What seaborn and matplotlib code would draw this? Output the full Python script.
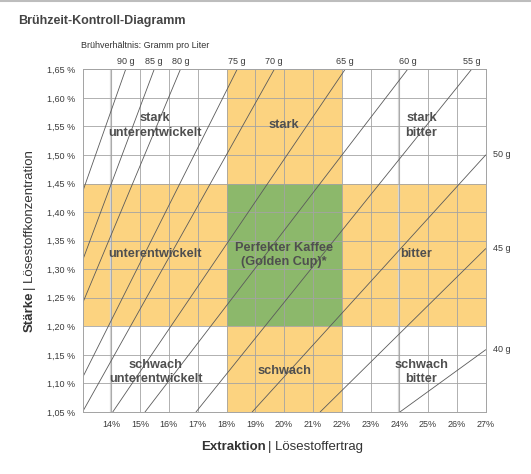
import matplotlib
matplotlib.use("Agg")
import pandas as pd
import matplotlib.pyplot as plt
from matplotlib.lines import Line2D
import seaborn as sns

# Brühverhältnis-Linien: Endpunkte (Extraktion %, Stärke %)
ratio_labels = ["90 g", "85 g", "80 g", "75 g", "70 g", "65 g", "60 g", "55 g", "50 g", "45 g", "40 g"]
start_ey = [13.0, 13.0, 13.0, 13.0, 13.0, 14.05, 15.17, 16.94, 18.89, 21.25, 24.02]
start_tds = [1.435, 1.315, 1.24, 1.11, 1.05, 1.05, 1.05, 1.05, 1.05, 1.05, 1.05]
end_ey = [14.50, 15.49, 16.40, 18.37, 19.66, 22.12, 24.29, 26.51, 27.0, 27.0, 27.0]
end_tds = [1.65, 1.65, 1.65, 1.65, 1.65, 1.65, 1.65, 1.65, 1.50, 1.336, 1.159]

x_ticks = [14, 15, 16, 17, 18, 19, 20, 21, 22, 23, 24, 25, 26, 27]
y_ticks = [1.05, 1.10, 1.15, 1.20, 1.25, 1.30, 1.35, 1.40, 1.45, 1.50, 1.55, 1.60, 1.65]

# Idealbereich
ey_range = [18, 22]
tds_range = [1.20, 1.45]

zone_labels = ["stark\nunterentwickelt", "stark", "stark\nbitter",
               "unterentwickelt", "Perfekter Kaffee\n(Golden Cup)*", "bitter",
               "schwach\nunterentwickelt", "schwach", "schwach\nbitter"]
zone_ey = [15.52, 20.0, 24.77, 15.52, 20.0, 24.6, 15.54, 20.0, 24.76]
zone_tds = [1.552, 1.552, 1.552, 1.326, 1.325, 1.326, 1.120, 1.122, 1.120]

ORANGE = "#FCD380"
GREEN = "#8CB86B"
LINE = "#5a5a5a"
GRID = "#a3a3a3"
TXT = "#4f4f4f"

sns.set_style("white")
plt.rcParams["font.family"] = ["Liberation Sans", "DejaVu Sans"]

lines_df = pd.DataFrame({
    "ratio": ratio_labels * 2,
    "ey": start_ey + end_ey,
    "tds": start_tds + end_tds,
})

fig = plt.figure(figsize=(5.31, 4.74), dpi=100)
ax = fig.add_axes([82.5 / 531, 1 - 412 / 474, (485.7 - 82.5) / 531, (412 - 69.3) / 474])

# Zonen
ax.axvspan(ey_range[0], ey_range[1], color=ORANGE, lw=0, zorder=0.1)
ax.axhspan(tds_range[0], tds_range[1], color=ORANGE, lw=0, zorder=0.1)
ax.fill_between(ey_range, tds_range[0], tds_range[1], color=GREEN, lw=0, zorder=0.2)

sns.lineplot(data=lines_df, x="ey", y="tds", units="ratio", estimator=None,
             color=LINE, lw=0.6, ax=ax, zorder=2, sort=False)

ax.set_xlim(13, 27)
ax.set_ylim(1.05, 1.65)
ax.set_xticks(x_ticks)
ax.set_yticks(y_ticks)
ax.set_xticklabels([f"{v}%" for v in x_ticks])
ax.set_yticklabels([f"{v:.2f} %".replace(".", ",") for v in y_ticks])
ax.tick_params(length=0, labelsize=6.5, labelcolor="#3a3a3a")
ax.tick_params(axis="x", pad=5.5)
ax.tick_params(axis="y", pad=5.0)
ax.set_xlabel("")
ax.set_ylabel("")
ax.set_axisbelow(True)
ax.grid(True, color=GRID, lw=0.6, zorder=0.5)
for v in [14, 24]:
    ax.axvline(v, color="#d4d4d4", lw=1.6, zorder=0.3)
for s in ax.spines.values():
    s.set_color(GRID)
    s.set_linewidth(0.7)

# Zonen-Beschriftungen
for lab, x, y in zip(zone_labels, zone_ey, zone_tds):
    ax.text(x, y, lab, ha="center", va="center", fontsize=9.2, fontweight="bold",
            color=TXT, linespacing=1.3, zorder=3)

# Beschriftung der Verhältnis-Linien
for lab, x, y in zip(ratio_labels, end_ey, end_tds):
    if y >= 1.65:
        ax.annotate(lab, (x, y), xytext=(0, 5.6), textcoords="offset points",
                    ha="center", va="center", fontsize=6.5, color="#3a3a3a",
                    annotation_clip=False)
    else:
        ax.annotate(lab, (x, y), xytext=(5, 0), textcoords="offset points",
                    ha="left", va="center", fontsize=6.5, color="#3a3a3a",
                    annotation_clip=False)

# Titel und Texte
fig.add_artist(Line2D([0, 1], [1 - 1 / 474, 1 - 1 / 474], color="#bdbdbd", lw=1.5))
fig.text(18 / 531, 1 - 21 / 474, "Brühzeit-Kontroll-Diagramm", fontsize=9, fontweight="bold",
         color="#444444", ha="left", va="center")
fig.text(81 / 531, 1 - 46 / 474, "Brühverhältnis: Gramm pro Liter", fontsize=6.5,
         color="#333333", ha="left", va="center")

fig.text(266 / 531, 1 - 447 / 474, "Extraktion", fontsize=9.5, fontweight="bold",
         color="#333333", ha="right", va="center")
fig.text(268.5 / 531, 1 - 447 / 474, "| Lösestoffertrag", fontsize=9.5,
         color="#333333", ha="left", va="center")

fig.text(30 / 531, 1 - 292 / 474, "Stärke", fontsize=9.5, fontweight="bold",
         color="#333333", rotation=90, ha="center", va="top")
fig.text(30 / 531, 1 - 289.5 / 474, "| Lösestoffkonzentration", fontsize=9.5,
         color="#333333", rotation=90, ha="center", va="bottom")

fig.savefig("out.png", dpi=100)
